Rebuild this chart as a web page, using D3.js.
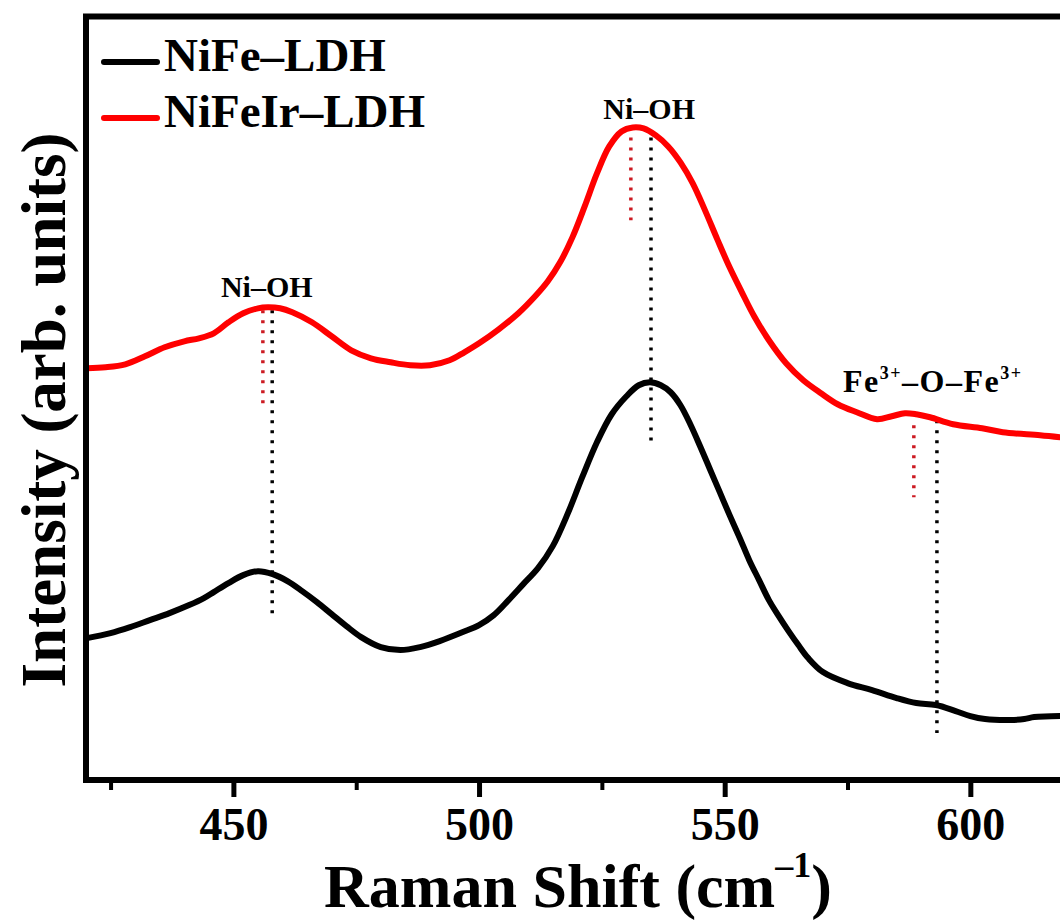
<!DOCTYPE html>
<html>
<head>
<meta charset="utf-8">
<script src="https://cdn.jsdelivr.net/npm/d3@7"></script>
<style>
  body { margin: 0; background: #fff; }
  svg text { font-family: 'Liberation Serif', 'Times New Roman', serif; font-weight: bold; fill: #000; }
</style>
</head>
<body>
<div class="canvas"></div>
<script>
// Raman spectra, intensity in arbitrary units
const shiftNiFe = [420.2, 425, 429, 433, 437, 441, 444, 446, 449, 452, 455, 458, 461, 464, 467, 470,
  473, 476, 480, 484, 488, 492, 496.7, 500, 503, 506, 509, 512, 515, 518, 521, 524, 527, 530,
  532.5, 534.8, 537, 539, 541, 543, 545, 547, 549, 551, 553, 555, 557, 559, 561, 563, 565, 567,
  570, 575, 580, 585, 589, 593, 597, 600, 603, 608, 611, 613, 618.3];
const intNiFe = [142, 147, 153, 160, 167, 175, 182, 188, 197, 205, 209, 206, 199, 189, 178, 166,
  154, 143, 133, 130, 133, 139, 148, 155, 165, 180, 196, 212, 234, 266, 303, 338, 366, 384,
  395, 398, 395, 388, 375, 356, 334, 311, 288, 265, 243, 220, 200, 180, 164, 149, 135, 122,
  108, 97, 90, 82, 77, 75, 69, 64, 61, 60, 61, 63, 64];

const shiftNiFeIr = [420.2, 424, 428, 432, 436, 440, 443, 446, 449, 452, 455, 457, 459.5, 462, 466,
  470, 474, 478, 482, 486, 490, 494, 497, 500, 504, 508, 511.6, 514, 516.5, 519, 521.5, 524,
  526.5, 529, 531.3, 533.5, 536, 538.5, 541, 543.5, 546, 548.5, 551, 553.5, 556, 559, 562.5,
  566, 569.6, 573, 576.9, 581, 584, 586.7, 589, 591.8, 596.5, 602.4, 606.6, 614.2, 618.3];
const intNiFeIr = [412, 413, 416, 424, 433, 439, 442, 447, 458, 467, 472, 473, 472, 468, 458,
  444, 430, 422, 418, 415, 415, 420, 428, 437, 451, 467, 485, 499, 518, 543, 574, 607,
  634, 649, 653, 652, 645, 634, 618, 597, 570, 541, 513, 488, 464, 440, 417,
  400, 387, 376, 368, 361, 364, 367, 366, 363, 356, 352, 348, 345, 343];

const seriesNames = ['NiFe\u2013LDH', 'NiFeIr\u2013LDH'];
const seriesColors = ['#000000', '#ff0000'];

const majorTicks = [450, 500, 550, 600];
const minorTicks = [425, 475, 525, 575];

// dotted peak markers: position, top and bottom (same units as intensity)
const markShift = [457.9, 456.0, 535.0, 530.9, 593.2, 588.5];
const markTop = [470, 470, 643, 643, 360, 355];
const markBottom = [166, 374, 338, 560, 47, 283];
const markColor = ['#000000', '#cc1a22', '#000000', '#cc1a22', '#000000', '#cc1a22'];

const dims = { left: 86, top: 16.5, bottom: 780, right: 1068.6 };

const svg = d3.select('.canvas')
  .append('svg')
  .attr('width', 1060)
  .attr('height', 920)
  .style('display', 'block');

svg.append('rect').attr('width', 1060).attr('height', 920).attr('fill', '#fff');

const x = d3.scaleLinear().domain([420, 620]).range([dims.left, dims.right]);
const y = d3.scaleLinear().domain([0, 764]).range([dims.bottom, dims.top]);

const line = d3.line()
  .x(d => x(d[0]))
  .y(d => y(d[1]))
  .curve(d3.curveCatmullRom.alpha(0.5));

// peak markers sit under the traces
markShift.forEach((s, i) => {
  svg.append('line')
    .attr('x1', x(s)).attr('x2', x(s))
    .attr('y1', y(markTop[i])).attr('y2', y(markBottom[i]))
    .attr('stroke', markColor[i])
    .attr('stroke-width', 3.5)
    .attr('stroke-dasharray', '3,7');
});

const traces = [
  d3.zip(shiftNiFe, intNiFe),
  d3.zip(shiftNiFeIr, intNiFeIr)
];

svg.selectAll('path.trace')
  .data(traces)
  .enter()
  .append('path')
  .attr('class', 'trace')
  .attr('d', line)
  .attr('fill', 'none')
  .attr('stroke', (d, i) => seriesColors[i])
  .attr('stroke-width', 6)
  .attr('stroke-linejoin', 'round');

// frame
svg.append('rect')
  .attr('x', dims.left)
  .attr('y', dims.top)
  .attr('width', dims.right - dims.left)
  .attr('height', dims.bottom - dims.top)
  .attr('fill', 'none')
  .attr('stroke', '#000')
  .attr('stroke-width', 6);

// x axis: major ticks with labels, minor ticks without
const majorAxis = d3.axisBottom(x)
  .tickValues(majorTicks)
  .tickSize(17)
  .tickPadding(10)
  .tickFormat(d3.format('d'));

const minorAxis = d3.axisBottom(x)
  .tickValues(minorTicks)
  .tickSize(10)
  .tickFormat('');

const gMajor = svg.append('g').attr('transform', `translate(0, ${dims.bottom})`).call(majorAxis);
const gMinor = svg.append('g').attr('transform', `translate(0, ${dims.bottom})`).call(minorAxis);

[gMajor, gMinor].forEach(g => {
  g.select('.domain').remove();
  g.selectAll('.tick line').attr('stroke', '#000').attr('stroke-width', 5);
});
gMinor.selectAll('.tick line').attr('stroke-width', 4);
gMajor.selectAll('.tick text')
  .attr('font-size', 46)
  .attr('font-family', "'Liberation Serif', 'Times New Roman', serif")
  .attr('font-weight', 'bold')
  .attr('fill', '#000');

// axis titles
const xTitle = svg.append('text')
  .attr('x', 578)
  .attr('y', 907)
  .attr('text-anchor', 'middle')
  .attr('font-size', 62);
xTitle.append('tspan').text('Raman Shift (cm');
xTitle.append('tspan').attr('font-size', 36).attr('dy', -30).text('\u20131');
xTitle.append('tspan').attr('dy', 30).text(')');

svg.append('text')
  .attr('transform', 'translate(65, 410) rotate(-90)')
  .attr('text-anchor', 'middle')
  .attr('font-size', 63)
  .text('Intensity (arb. units)');

// legend
const legend = svg.append('g');
seriesNames.forEach((name, i) => {
  const ly = 62 + i * 56;
  legend.append('line')
    .attr('x1', 104).attr('x2', 157)
    .attr('y1', ly).attr('y2', ly)
    .attr('stroke', seriesColors[i])
    .attr('stroke-width', 6)
    .attr('stroke-linecap', 'round');
  legend.append('text')
    .attr('x', 164)
    .attr('y', ly + 9)
    .attr('font-size', 47)
    .text(name);
});

// band labels
svg.append('text')
  .attr('x', x(457) - 1)
  .attr('y', 297)
  .attr('text-anchor', 'middle')
  .attr('font-size', 30)
  .text('Ni\u2013OH');

svg.append('text')
  .attr('x', x(533) + 8)
  .attr('y', 119)
  .attr('text-anchor', 'middle')
  .attr('font-size', 30)
  .text('Ni\u2013OH');

const fe = svg.append('text')
  .attr('x', 843)
  .attr('y', 392)
  .attr('font-size', 32)
  .attr('letter-spacing', 1.5);
fe.append('tspan').text('Fe');
fe.append('tspan').attr('font-size', 18).attr('dy', -13).text('3+');
fe.append('tspan').attr('dy', 13).text('\u2013O\u2013Fe');
fe.append('tspan').attr('font-size', 18).attr('dy', -13).text('3+');
</script>
</body>
</html>
